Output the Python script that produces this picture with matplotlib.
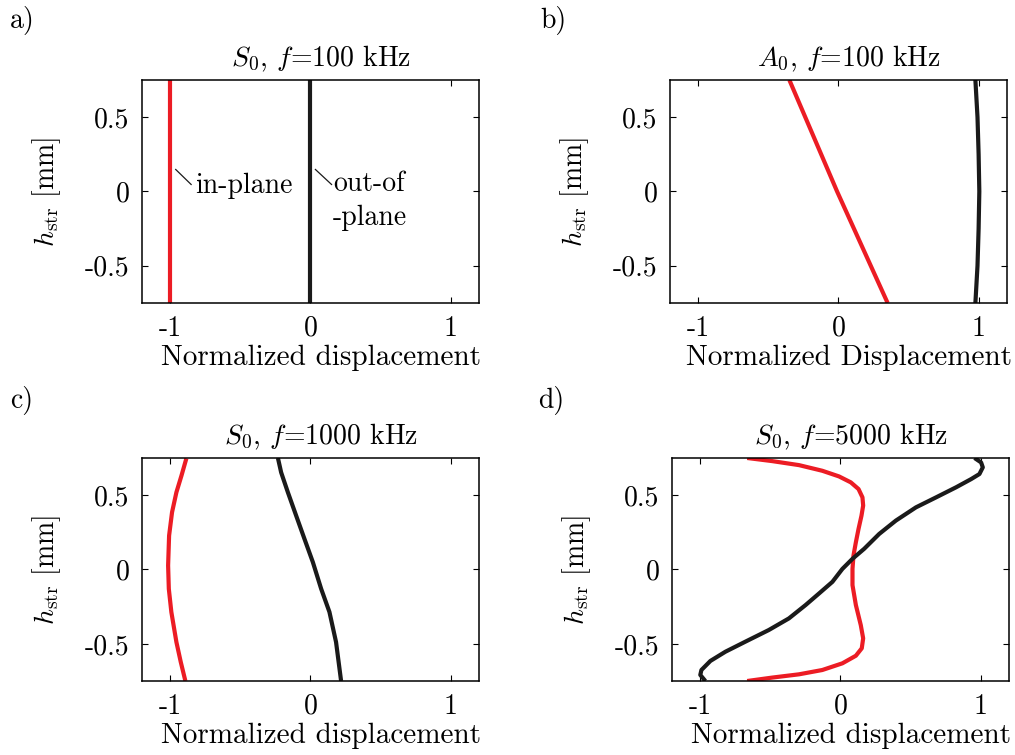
import numpy as np
import matplotlib
matplotlib.use("Agg")
import matplotlib.pyplot as plt

plt.rcParams['font.family'] = 'serif'
plt.rcParams['font.serif'] = ['cmr10']
plt.rcParams['mathtext.fontset'] = 'cm'
plt.rcParams['axes.unicode_minus'] = False
plt.rcParams['font.size'] = 20

RED = '#ec1c24'
BLACK = '#1a1a1a'

# mode shapes: (displacement, h_str) pairs, in-plane (red) and out-of-plane (black)
a_in_x = [-1.0, -1.0]
a_in_y = [0.75, -0.75]
a_out_x = [0.0, 0.0]
a_out_y = [0.75, -0.75]

b_in_x = [-0.35, -0.18, -0.01, 0.17, 0.35]
b_in_y = [0.75, 0.375, 0.0, -0.375, -0.75]
b_out_x = [0.975, 0.99, 0.998, 1.003, 0.998, 0.99, 0.975]
b_out_y = [0.75, 0.5, 0.25, 0.0, -0.25, -0.5, -0.75]

c_in_x = [-0.884, -0.919, -0.955, -0.986, -1.007, -1.014, -1.009, -0.991, -0.955, -0.924, -0.891]
c_in_y = [0.747, 0.631, 0.519, 0.385, 0.228, 0.027, -0.130, -0.286, -0.488, -0.622, -0.75]
c_out_x = [-0.232, -0.209, -0.161, -0.102, -0.043, 0.017, 0.076, 0.135, 0.182, 0.218]
c_out_y = [0.75, 0.653, 0.519, 0.362, 0.206, 0.049, -0.130, -0.286, -0.488, -0.75]

d_in_x = [-0.664, -0.486, -0.295, -0.129, -0.010, 0.074, 0.129, 0.157, 0.162, 0.150,
          0.129, 0.110, 0.093, 0.086, 0.086, 0.110, 0.145, 0.162, 0.152, 0.110,
          0.014, -0.129, -0.295, -0.486, -0.664]
d_in_y = [0.75, 0.729, 0.702, 0.664, 0.626, 0.586, 0.541, 0.485, 0.430, 0.362,
          0.273, 0.183, 0.094, 0.004, -0.105, -0.239, -0.374, -0.463, -0.530, -0.580,
          -0.631, -0.676, -0.705, -0.727, -0.75]
d_out_x = [0.955, 1.002, 1.014, 0.990, 0.931, 0.824, 0.681, 0.538, 0.395, 0.276, 0.169,
           0.086, 0.014, -0.057, -0.152, -0.248, -0.367, -0.510, -0.676, -0.819, -0.926,
           -0.990, -0.998, -0.962]
d_out_y = [0.75, 0.720, 0.687, 0.642, 0.608, 0.553, 0.485, 0.418, 0.329, 0.239, 0.139,
           0.072, 0.004, -0.083, -0.161, -0.239, -0.329, -0.407, -0.485, -0.553, -0.615,
           -0.676, -0.709, -0.75]

titles = [r'$S_{0}$, $f$=100 kHz', r'$A_{0}$, $f$=100 kHz',
          r'$S_{0}$, $f$=1000 kHz', r'$S_{0}$, $f$=5000 kHz']
xlabels = ['Normalized displacement', 'Normalized Displacement',
           'Normalized displacement', 'Normalized displacement']
letters = ['a)', 'b)', 'c)', 'd)']
xticks = [-1, 0, 1]
yticks = [-0.5, 0, 0.5]

curves = [(a_in_x, a_in_y, a_out_x, a_out_y),
          (b_in_x, b_in_y, b_out_x, b_out_y),
          (c_in_x, c_in_y, c_out_x, c_out_y),
          (d_in_x, d_in_y, d_out_x, d_out_y)]

fig = plt.figure(figsize=(10.15, 7.55), dpi=100)
boxes = [[0.1399, 0.5987, 0.332, 0.2954], [0.6601, 0.5987, 0.332, 0.2954],
         [0.1399, 0.098, 0.332, 0.2954], [0.662, 0.098, 0.332, 0.2954]]
letter_pos = [(0.010, 0.973), (0.532, 0.973), (0.010, 0.470), (0.530, 0.470)]

axes = []
for i in range(4):
    ax = fig.add_axes(boxes[i])
    xi, yi, xo, yo = curves[i]
    ax.plot(xi, yi, color=RED, lw=3.0, solid_capstyle='butt', solid_joinstyle='round')
    ax.plot(xo, yo, color=BLACK, lw=3.0, solid_capstyle='butt', solid_joinstyle='round')
    ax.set_xlim(-1.2, 1.2)
    ax.set_ylim(-0.75, 0.75)
    ax.set_xticks(xticks)
    ax.set_yticks(yticks)
    ax.set_xticklabels(['-1', '0', '1'])
    ax.set_yticklabels(['-0.5', '0', '0.5'])
    ax.tick_params(direction='in', top=True, right=True, length=4, width=0.8,
                   labelsize=20, pad=9)
    for s in ax.spines.values():
        s.set_linewidth(1.1)
    ax.set_title(titles[i], fontsize=20, pad=10, x=0.53)
    ax.set_xlabel(xlabels[i], fontsize=21)
    ax.xaxis.set_label_coords(0.53, -0.185)
    ax.set_ylabel(r'$h_{\rm str}$ [mm]', fontsize=20)
    ax.yaxis.set_label_coords(-0.235, 0.5)
    fig.text(letter_pos[i][0], letter_pos[i][1], letters[i], fontsize=20,
             va='center', ha='left')
    axes.append(ax)

# labels for the two lines in panel a
ax = axes[0]
ax.plot([-0.96, -0.85], [0.148, 0.047], color=BLACK, lw=0.9)
ax.text(-0.82, 0.04, 'in-plane', fontsize=20, va='center', ha='left')
ax.plot([0.035, 0.15], [0.148, 0.047], color=BLACK, lw=0.9)
ax.text(0.16, 0.05, 'out-of', fontsize=20, va='center', ha='left')
ax.text(0.16, -0.18, '-plane', fontsize=20, va='center', ha='left')

fig.savefig('out.png', dpi=100)
